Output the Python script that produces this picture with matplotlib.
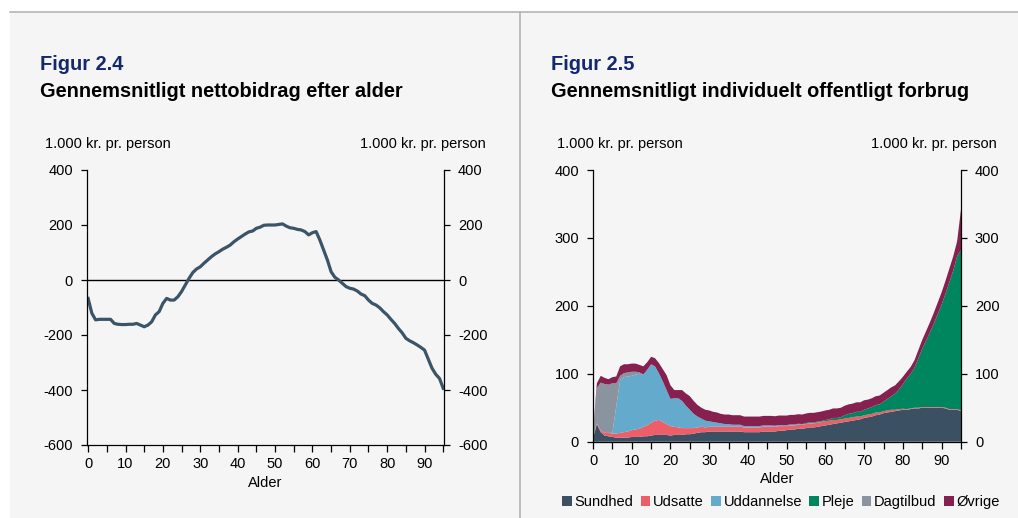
import numpy as np
import matplotlib
matplotlib.use('Agg')
import matplotlib.pyplot as plt
from matplotlib.patches import Rectangle, Patch
from matplotlib.lines import Line2D

plt.rcParams['font.family'] = ['Liberation Sans', 'DejaVu Sans']
plt.rcParams['axes.unicode_minus'] = False

# ages 0..95
ages = np.arange(0, 96)

# Figur 2.4: average net contribution, 1.000 kr. per person
netto = [-67, -121, -145, -143, -143, -143, -143, -158, -161, -162,
         -162, -161, -161, -158, -164, -170, -164, -152, -127, -115,
         -85, -67, -73, -73, -61, -42, -18, 6, 27, 40,
         48, 61, 73, 85, 95, 103, 112, 119, 127, 139,
         149, 158, 167, 175, 178, 188, 192, 199, 200, 200,
         200, 202, 204, 196, 190, 188, 184, 182, 176, 164,
         172, 176, 145, 109, 73, 30, 10, 0, -12, -24,
         -30, -33, -40, -51, -57, -73, -85, -91, -101, -115,
         -127, -143, -158, -176, -192, -212, -221, -228, -236, -245,
         -255, -288, -321, -343, -358, -394]

# Figur 2.5: individual public consumption by component
sundhed = [5, 26, 14, 9, 8, 7, 6, 6, 6, 6,
           7, 7, 7, 8, 8, 9, 10, 10, 10, 10,
           9, 10, 10, 10, 11, 11, 12, 13, 14, 14,
           15, 15, 15, 15, 15, 15, 15, 15, 15, 14,
           14, 14, 14, 14, 15, 15, 15, 15, 16, 16,
           17, 18, 18, 19, 19, 20, 21, 21, 22, 23,
           24, 25, 26, 27, 28, 29, 30, 31, 32, 33,
           35, 36, 37, 39, 40, 42, 43, 44, 45, 46,
           47, 47, 48, 49, 49, 50, 50, 50, 50, 50,
           50, 49, 47, 47, 47, 45]
udsatte = [1, 1, 3, 4, 5, 5, 6, 7, 8, 9,
           10, 11, 12, 14, 16, 19, 21, 22, 19, 16,
           14, 12, 11, 10, 9, 9, 8, 8, 8, 7,
           7, 7, 7, 7, 7, 7, 7, 7, 7, 7,
           7, 7, 7, 7, 7, 7, 7, 7, 7, 7,
           6, 6, 6, 6, 6, 6, 6, 6, 6, 6,
           6, 6, 6, 5, 5, 5, 5, 5, 5, 4,
           4, 4, 4, 4, 3, 3, 3, 3, 2, 2,
           1.5, 1, 1, 1, 1, 1, 1, 1, 1, 1,
           1, 1, 1, 1, 1, 1]
uddannelse = [0, 0, 0, 0, 0, 1, 40, 78, 81, 81,
              80, 81, 81, 77, 82, 86, 80, 69, 60, 50,
              40, 42, 43, 40, 33, 27, 21, 16, 12, 10,
              8, 7, 6, 5, 4, 4, 3, 3, 3, 2,
              2, 2, 2, 2, 2, 2, 2, 1.5, 1.5, 1.5,
              1, 1, 1, 1, 0.5, 0.5, 0.5, 0.5, 0.5, 0.5,
              0, 0, 0, 0, 0, 0, 0, 0, 0, 0,
              0, 0, 0, 0, 0, 0, 0, 0, 0, 0,
              0, 0, 0, 0, 0, 0, 0, 0, 0, 0,
              0, 0, 0, 0, 0, 0]
pleje = [0, 0, 0, 0, 0, 0, 0, 0, 0, 0,
         0, 0, 0, 0, 0, 0, 0, 0, 0, 0,
         0, 0, 0, 0, 0, 0, 0, 0, 0, 0,
         0, 0, 0, 0, 0, 0, 0, 0, 0, 0,
         0, 0, 0, 0, 0, 0, 0, 0, 0, 0,
         0.5, 0.5, 0.5, 0.5, 0.5, 1, 1, 1, 1, 1,
         2, 2, 3, 3, 3, 5, 6, 6, 7, 7,
         8, 9, 10, 11, 12, 14, 17, 20, 24, 29,
         36, 45, 51, 59, 73, 86, 98, 110, 123, 137,
         151, 168, 187, 204, 225, 236]
dagtilbud = [4, 52, 70, 72, 71, 73, 34, 6, 6, 6,
             6, 4, 2, 0, 0, 0, 0, 0, 0, 0,
             0, 0, 0, 0, 0, 0, 0, 0, 0, 0,
             0, 0, 0, 0, 0, 0, 0, 0, 0, 0,
             0, 0, 0, 0, 0, 0, 0, 0, 0, 0,
             0, 0, 0, 0, 0, 0, 0, 0, 0, 0,
             0, 0, 0, 0, 0, 0, 0, 0, 0, 0,
             0, 0, 0, 0, 0, 0, 0, 0, 0, 0,
             0, 0, 0, 0, 0, 0, 0, 0, 0, 0,
             0, 0, 0, 0, 0, 0]
oevrige = [3, 7, 10, 9, 8, 9, 10, 14, 13, 12,
           12, 12, 11, 12, 11, 11, 12, 15, 18, 22,
           20, 12, 12, 16, 18, 20, 19, 17, 16, 16,
           16, 15, 15, 14, 14, 14, 14, 14, 14, 14,
           14, 14, 14, 14, 14, 14, 14, 14, 14, 14,
           14, 14, 14, 14, 14, 14, 14, 14, 14, 14,
           14, 14, 14, 14, 14, 14, 14, 14, 14, 14,
           14, 13, 13, 13, 13, 13, 13, 13, 12, 12,
           11, 10, 10, 11, 12, 13, 14, 15, 16, 17,
           18, 19, 20, 21, 22, 60]

serie_navne = ['Sundhed', 'Udsatte', 'Uddannelse', 'Pleje', 'Dagtilbud', 'Øvrige']
farver = ['#3b5163', '#ee5e68', '#63aacd', '#00865f', '#8a949e', '#85204f']

W, H = 1018, 518
fig = plt.figure(figsize=(W / 100, H / 100), dpi=100)
fig.patch.set_facecolor('white')

def fx(px):
    return px / W

def fy(py):
    return 1 - py / H

# panel background and frame lines
fig.add_artist(Rectangle((fx(10), 0), 1 - fx(10), fy(12), transform=fig.transFigure,
                         facecolor='#f5f5f5', edgecolor='none', zorder=0))
fig.add_artist(Line2D([fx(10), 1], [fy(12), fy(12)], transform=fig.transFigure,
                      color='#b5b5b5', lw=1.2))
fig.add_artist(Line2D([fx(520), fx(520)], [0, fy(12)], transform=fig.transFigure,
                      color='#b5b5b5', lw=1.2))

navy = '#14286e'
fs_tick = 10.5

def header(x0, fig_no, title):
    fig.text(fx(x0), fy(70), fig_no, fontsize=14.4, fontweight='bold', color=navy, va='baseline')
    fig.text(fx(x0), fy(97), title, fontsize=14.4, fontweight='bold', color='black', va='baseline')

def unit_labels(x_left, x_right):
    fig.text(fx(x_left), fy(148), '1.000 kr. pr. person', fontsize=fs_tick, va='baseline')
    fig.text(fx(x_right), fy(148), '1.000 kr. pr. person', fontsize=fs_tick, va='baseline', ha='right')

def style_axes(ax):
    ax.set_facecolor('none')
    ax.spines['top'].set_visible(False)
    for s in ['left', 'right', 'bottom']:
        ax.spines[s].set_color('black')
        ax.spines[s].set_linewidth(0.9)
    ax.tick_params(axis='y', which='both', direction='out', length=4, width=0.9, pad=6,
                   left=True, right=True, labelleft=True, labelright=True, labelsize=fs_tick)
    ax.tick_params(axis='x', which='both', direction='out', length=5, width=0.9, pad=4,
                   labelsize=fs_tick)
    ax.set_xticks(np.arange(0, 96, 5))
    ax.set_xticklabels([str(v) if v % 10 == 0 else '' for v in range(0, 96, 5)])
    ax.set_xlabel('Alder', fontsize=fs_tick, labelpad=3)

# ---- Figur 2.4 ----
header(40, 'Figur 2.4', 'Gennemsnitligt nettobidrag efter alder')
unit_labels(45, 486)
ax1 = fig.add_axes([fx(87), fy(445), fx(444) - fx(87), fy(170) - fy(445)])
ax1.axhline(0, color='black', lw=1.0, zorder=1)
ax1.plot(ages, netto, color='#3b5467', lw=2.3, zorder=2, solid_joinstyle='round')
ax1.set_xlim(-0.3, 95.2)
ax1.set_ylim(-600, 400)
ax1.set_yticks(np.arange(-600, 401, 200))
style_axes(ax1)

# ---- Figur 2.5 ----
header(551, 'Figur 2.5', 'Gennemsnitligt individuelt offentligt forbrug')
unit_labels(557, 997)
ax2 = fig.add_axes([fx(593), fy(441.7), fx(961) - fx(593), fy(170) - fy(441.7)])
ax2.stackplot(ages, sundhed, udsatte, uddannelse, pleje, dagtilbud, oevrige,
              colors=farver, linewidth=0, zorder=2)
ax2.set_xlim(0, 95)
ax2.set_ylim(0, 400)
ax2.set_yticks(np.arange(0, 401, 100))
style_axes(ax2)

handles = [Patch(facecolor=c, edgecolor='none') for c in farver]
fig.legend(handles, serie_navne, loc='center', bbox_to_anchor=(fx(781), fy(502)),
           ncol=6, frameon=False, fontsize=fs_tick, handlelength=0.65, handleheight=0.65,
           handletextpad=0.2, columnspacing=0.5, borderaxespad=0, borderpad=0)

fig.savefig('out.png', dpi=100, facecolor=fig.get_facecolor())
